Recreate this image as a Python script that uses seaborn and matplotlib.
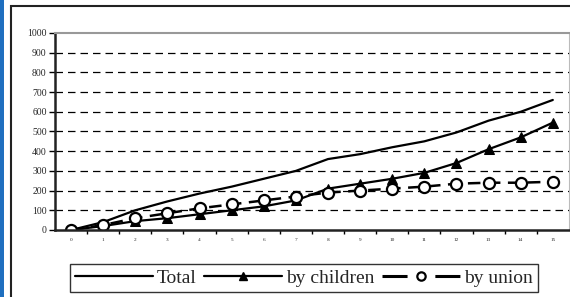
import matplotlib
matplotlib.use('Agg')
import matplotlib.pyplot as plt
import seaborn as sns
import pandas as pd
from matplotlib.patches import Rectangle
from matplotlib.lines import Line2D

# Data
years = list(range(16))
total = [0, 40, 100, 145, 185, 220, 260, 300, 360, 385, 420, 450, 495, 555, 600, 660]
by_children = [0, 20, 45, 60, 80, 100, 120, 150, 210, 235, 260, 290, 340, 410, 470, 545]
by_union = [0, 25, 60, 85, 110, 130, 150, 170, 190, 200, 210, 220, 235, 240, 240, 245]
y_ticks = list(range(0, 1001, 100))

sns.set_theme(style='white')
plt.rcParams['font.family'] = ['Liberation Serif', 'DejaVu Serif']

df = pd.DataFrame({'x': years, 'Total': total, 'by children': by_children, 'by union': by_union})

fig = plt.figure(figsize=(5.7, 2.97), dpi=100)
ax = fig.add_axes([0.0965, 0.2256, 0.9015, 0.6634])

sns.lineplot(data=df, x='x', y='Total', ax=ax, color='black', linewidth=1.6, legend=False)
sns.lineplot(data=df, x='x', y='by children', ax=ax, color='black', linewidth=1.6,
             marker='^', markersize=7, markeredgecolor='black', markerfacecolor='black', legend=False)
sns.lineplot(data=df, x='x', y='by union', ax=ax, color='black', linewidth=1.8,
             linestyle=(0, (5, 3)), marker='o', markersize=8, markerfacecolor='white',
             markeredgecolor='black', markeredgewidth=1.6, legend=False)

ax.set_xlim(-0.5, 15.5)
ax.set_ylim(0, 1000)
ax.set_yticks(y_ticks)
ax.set_yticklabels([str(v) for v in y_ticks], fontsize=7)
ax.set_xticks(years)
ax.set_xticklabels([str(v) for v in years], fontsize=3.8)
ax.set_xticks([v + 0.5 for v in years[:-1]], minor=True)
ax.tick_params(axis='x', which='major', length=0, pad=6)
ax.tick_params(axis='x', which='minor', length=3, width=1, direction='out', color='black', bottom=True)
ax.tick_params(axis='y', length=4, width=1, direction='out', color='black', left=True, pad=2)
ax.set_xlabel('')
ax.set_ylabel('')

for v in y_ticks[1:-1]:
    ax.axhline(v, color='black', linestyle=(0, (6, 4)), linewidth=0.9, zorder=0)

ax.spines['left'].set_color('#222222')
ax.spines['left'].set_linewidth(1.8)
ax.spines['bottom'].set_color('#222222')
ax.spines['bottom'].set_linewidth(1.8)
ax.spines['top'].set_color('#999999')
ax.spines['top'].set_linewidth(1.5)
ax.spines['right'].set_color('#bbbbbb')
ax.spines['right'].set_linewidth(0.8)

# outer frame and blue strip
fig.patches.append(Rectangle((11 / 570, -0.1), 1.2, (297 - 6) / 297 + 0.1, transform=fig.transFigure,
                             fill=False, edgecolor='#222222', linewidth=1.5, zorder=-1))
fig.patches.append(Rectangle((0, 0), 4 / 570, 1, transform=fig.transFigure,
                             facecolor='#1f6fbf', edgecolor='none', zorder=-1))

handles = [
    Line2D([], [], color='black', linewidth=1.6),
    Line2D([], [], color='black', linewidth=1.6, marker='^', markersize=6),
    Line2D([], [], color='black', linewidth=2.2, linestyle=(0, (8.2, 9.1)), marker='o', markersize=6,
           markerfacecolor='white', markeredgewidth=1.6),
]
leg = fig.legend(handles, ['Total', 'by children', 'by union'], ncol=3,
                 loc='center', bbox_to_anchor=(304 / 570, (297 - 278) / 297),
                 fontsize=14, frameon=True, fancybox=False, handlelength=4.0,
                 handletextpad=0.2, columnspacing=0.4, borderpad=0.25)
leg.get_frame().set_edgecolor('black')
leg.get_frame().set_linewidth(1.0)

fig.savefig('out.png', dpi=100)
